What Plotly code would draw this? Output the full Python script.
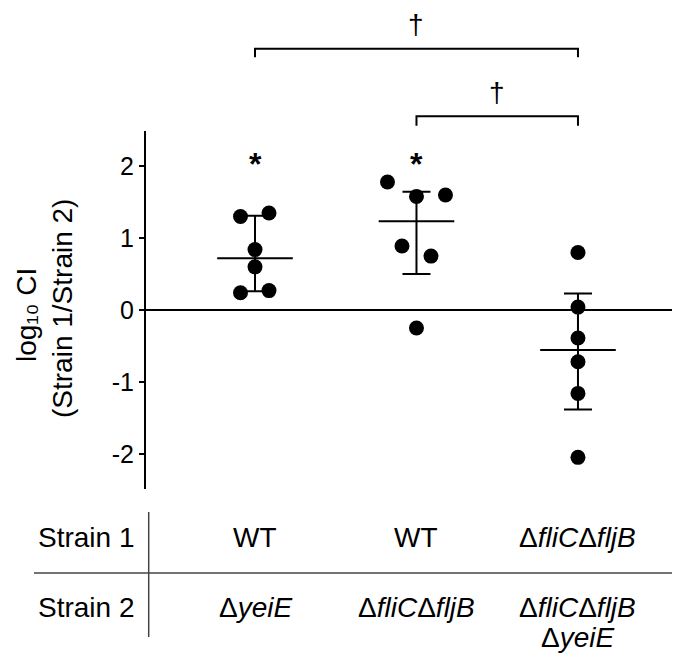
import plotly.graph_objects as go

# ---------------- data ----------------
groups = [1, 2, 3]
g1_values = [1.30, 1.35, 0.84, 0.60, 0.24, 0.27]
g2_values = [1.78, 1.58, 1.60, 0.89, 0.75, -0.25]
g3_values = [0.80, 0.04, -0.39, -0.72, -1.16, -2.05]
series = [g1_values, g2_values, g3_values]
y_ticks = [-2, -1, 0, 1, 2]
y_title_lines = ["log₁₀ CI", "(Strain 1/Strain 2)"]
row_labels = ["Strain 1", "Strain 2"]
strain1_labels = ["WT", "WT", "Δ<i>fliC</i>Δ<i>fljB</i>"]
strain2_labels = [["Δ<i>yeiE</i>"], ["Δ<i>fliC</i>Δ<i>fljB</i>"],
                  ["Δ<i>fliC</i>Δ<i>fljB</i>", "Δ<i>yeiE</i>"]]
star_groups = [1, 2]
dagger_pairs = [(1, 3), (2, 3)]

# ---------------- layout geometry ----------------
W, H = 680, 655
ML, MR, MT, MB = 138, 2, 123, 174
PW = W - ML - MR
PH = H - MT - MB
XR = [0.325, 3.669]
YR = [-2.49, 2.49]
unit_px = PW / (XR[1] - XR[0])
jitter_px = [[-14.5, 14, 0, 0, -14.5, 14],
             [-29, 0, 29, -14.5, 14.5, 0],
             [0, 0, 0, 0, 0, 0]]
FONT = "Liberation Sans, Arial, Helvetica, sans-serif"


def py(pix):
    return (H - MB - pix) / PH


def px(pix):
    return (pix - ML) / PW


def quart(vals, p):
    s = sorted(vals)
    n = len(s)
    pos = p * (n + 1)
    lo = int(pos)
    frac = pos - lo
    lo = max(1, min(n, lo))
    hi = min(n, lo + 1)
    return s[lo - 1] + frac * (s[hi - 1] - s[lo - 1])


fig = go.Figure()

for gi, vals in enumerate(series):
    gx = groups[gi]
    med = quart(vals, 0.5)
    q1 = quart(vals, 0.25)
    q3 = quart(vals, 0.75)
    # IQR error bar
    fig.add_trace(go.Scatter(
        x=[gx], y=[med], mode="markers",
        marker=dict(size=0.1, color="black"),
        error_y=dict(type="data", symmetric=False, array=[q3 - med],
                     arrayminus=[med - q1], thickness=2, width=14, color="black"),
        showlegend=False, hoverinfo="skip"))
    # median line
    fig.add_trace(go.Scatter(
        x=[gx], y=[med], mode="markers",
        marker=dict(symbol="line-ew", size=54, line=dict(width=2, color="black")),
        showlegend=False, hoverinfo="skip"))
    # points
    xs = [gx + j / unit_px for j in jitter_px[gi]]
    fig.add_trace(go.Scatter(
        x=xs, y=vals, mode="markers",
        marker=dict(size=15, color="black"),
        showlegend=False))

shapes = []
annotations = []

# significance brackets (daggers)
bracket_y = [(40.7, 49.3, 16), (108.3, 117.7, 84.5)]
for (a, b), (ytop, ydrop, ytext) in zip(dagger_pairs, bracket_y):
    shapes.append(dict(type="path", xref="x", yref="paper",
                       path=f"M {a},{py(ydrop)} L {a},{py(ytop)} L {b},{py(ytop)} L {b},{py(ydrop)}",
                       line=dict(color="black", width=2)))
    annotations.append(dict(x=(a + b) / 2, y=py(ytext), xref="x", yref="paper",
                            text="†", showarrow=False, xanchor="center", yanchor="middle",
                            font=dict(size=28, color="black", family=FONT)))

# asterisks
for g in star_groups:
    annotations.append(dict(x=g, y=py(156), xref="x", yref="paper", text="<b>*</b>",
                            showarrow=False, xanchor="center", yanchor="middle",
                            font=dict(size=32, color="black", family=FONT)))

# y-axis title (two lines)
annotations.append(dict(x=px(18), y=py(307), xref="paper", yref="paper",
                        text=y_title_lines[0], textangle=-90, showarrow=False,
                        xanchor="center", yanchor="middle",
                        font=dict(size=28, color="black", family=FONT)))
annotations.append(dict(x=px(54), y=py(301), xref="paper", yref="paper",
                        text=y_title_lines[1], textangle=-90, showarrow=False,
                        xanchor="center", yanchor="middle",
                        font=dict(size=28, color="black", family=FONT)))

# table below the plot
shapes.append(dict(type="line", xref="paper", yref="paper",
                   x0=px(26), x1=px(680), y0=py(565), y1=py(565),
                   line=dict(color="#444444", width=1.5)))
shapes.append(dict(type="line", xref="paper", yref="paper",
                   x0=px(140.7), x1=px(140.7), y0=py(504), y1=py(629),
                   line=dict(color="#444444", width=1.5)))
for lab, yy in zip(row_labels, [529, 599]):
    annotations.append(dict(x=px(28), y=py(yy), xref="paper", yref="paper", text=lab,
                            showarrow=False, xanchor="left", yanchor="middle",
                            font=dict(size=28, color="black", family=FONT)))
for g, lab in zip(groups, strain1_labels):
    annotations.append(dict(x=g, y=py(529), xref="x", yref="paper", text=lab,
                            showarrow=False, xanchor="center", yanchor="middle",
                            font=dict(size=28, color="black", family=FONT)))
row2_y = [599, 629]
for g, labs in zip(groups, strain2_labels):
    for k, lab in enumerate(labs):
        annotations.append(dict(x=g, y=py(row2_y[k]), xref="x", yref="paper", text=lab,
                                showarrow=False, xanchor="center", yanchor="middle",
                                font=dict(size=28, color="black", family=FONT)))

fig.update_layout(
    width=W, height=H,
    margin=dict(l=ML, r=MR, t=MT, b=MB),
    plot_bgcolor="white", paper_bgcolor="white",
    font=dict(family=FONT, color="black"),
    xaxis=dict(range=XR, visible=False, showgrid=False, zeroline=False),
    yaxis=dict(range=YR, tickvals=y_ticks, ticktext=[str(t) for t in y_ticks],
               showgrid=False, zeroline=True, zerolinecolor="black", zerolinewidth=2,
               showline=True, linecolor="black", linewidth=2,
               ticks="outside", ticklen=5, tickwidth=2, tickcolor="black",
               tickfont=dict(size=25, color="black", family=FONT)),
    shapes=shapes, annotations=annotations,
)

fig.write_html("out.html")
